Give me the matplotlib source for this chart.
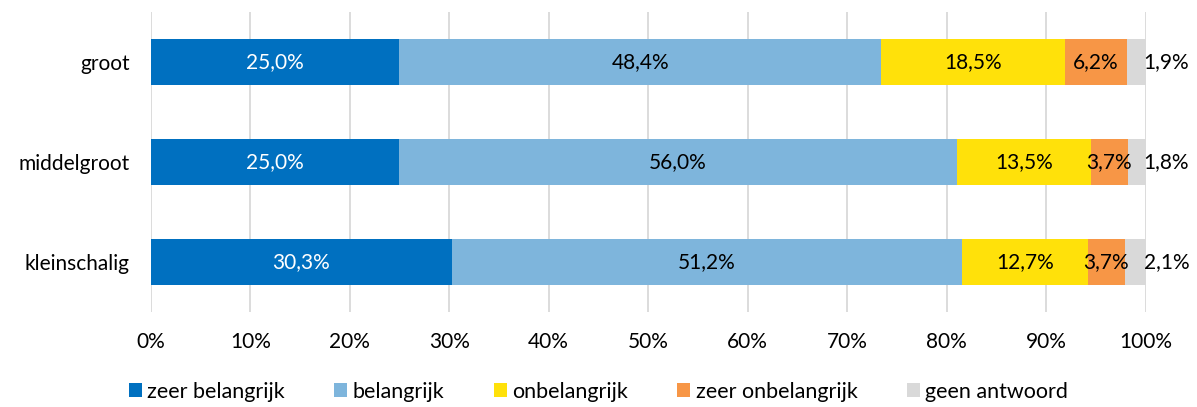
import matplotlib.pyplot as plt
import numpy as np

plt.rcParams['font.family'] = ['Lato', 'DejaVu Sans']

categories = ["groot", "middelgroot", "kleinschalig"]
series_names = ["zeer belangrijk", "belangrijk", "onbelangrijk", "zeer onbelangrijk", "geen antwoord"]
zeer_belangrijk = [25.0, 25.0, 30.3]
belangrijk = [48.4, 56.0, 51.2]
onbelangrijk = [18.5, 13.5, 12.7]
zeer_onbelangrijk = [6.2, 3.7, 3.7]
geen_antwoord = [1.9, 1.8, 2.1]
colors = ["#0070C0", "#7EB5DC", "#FFE10A", "#F79646", "#D9D9D9"]
label_colors = ["white", "black", "black", "black", "black"]

series = [zeer_belangrijk, belangrijk, onbelangrijk, zeer_onbelangrijk, geen_antwoord]

fig = plt.figure(figsize=(11.97, 4.07), dpi=100)
ax = fig.add_axes([0.126, 0.233, 0.831, 0.738])

y = np.arange(len(categories))
left = np.zeros(len(categories))
for i, (name, vals) in enumerate(zip(series_names, series)):
    vals = np.array(vals)
    ax.barh(y, vals, left=left, height=0.46, color=colors[i], label=name, zorder=3)
    for j, v in enumerate(vals):
        txt = f"{v:.1f}%".replace(".", ",")
        if i == len(series) - 1:
            # last series is labelled just outside the bar
            ax.text(102.1, y[j], txt, ha="center", va="center", fontsize=15, color="black", zorder=4)
        else:
            ax.text(left[j] + v / 2, y[j], txt, ha="center", va="center", fontsize=15,
                    color=label_colors[i], zorder=4)
    left += vals

ax.set_xlim(0, 100)
ax.set_ylim(2.5, -0.5)
ax.set_yticks(y)
ax.set_yticklabels(categories, fontsize=15)
ax.set_xticks(np.arange(0, 101, 10))
ax.set_xticklabels([f"{t}%" for t in range(0, 101, 10)], fontsize=15)
ax.tick_params(length=0)
ax.tick_params(axis="y", pad=15)
ax.tick_params(axis="x", pad=14)
ax.grid(axis="x", color="#D9D9D9", linewidth=1.3, zorder=0)
for s in ax.spines.values():
    s.set_visible(False)

fig.legend(loc="lower center", bbox_to_anchor=(0.5, -0.035), ncol=5, frameon=False, fontsize=15.5,
           handlelength=0.6, handleheight=0.6, handletextpad=0.25, columnspacing=2.3)

fig.savefig("out.png", dpi=100)
